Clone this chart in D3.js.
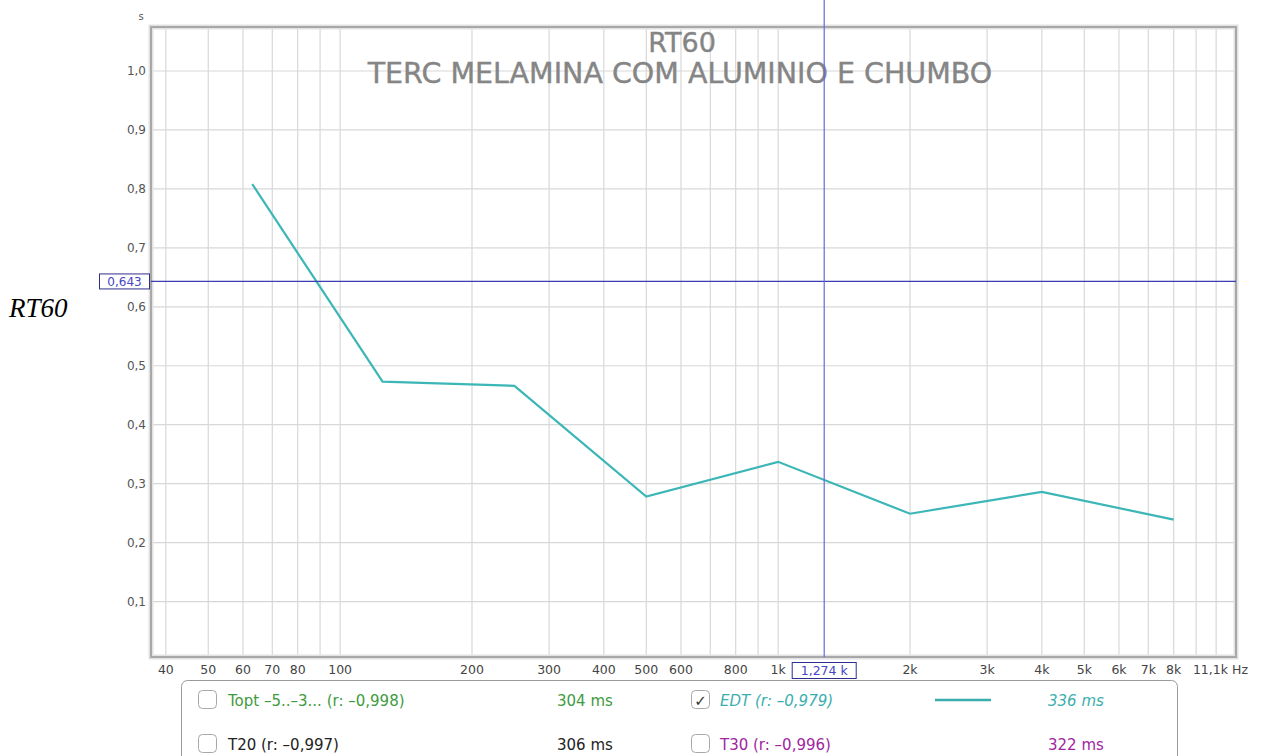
<!DOCTYPE html>
<html>
<head>
<meta charset="utf-8">
<script src="https://cdn.jsdelivr.net/npm/d3@7"></script>
<style>
  body { margin: 0; background: #fff; }
  svg { display: block; font-family: "DejaVu Sans", sans-serif; }
</style>
</head>
<body>
<div id="chart"></div>
<script>
const width = 1264;
const height = 756;
const margin = { top: 27, right: 28, bottom: 99, left: 151 };

// EDT values per octave band (seconds)
const bandFreqs = [63, 125, 250, 500, 1000, 2000, 4000, 8000];
const edtValues = [0.808, 0.473, 0.466, 0.278, 0.337, 0.249, 0.286, 0.239];

// axis ticks
const gridFreqs = [40, 50, 60, 70, 80, 90, 100, 200, 300, 400, 500, 600, 700, 800, 900,
    1000, 2000, 3000, 4000, 5000, 6000, 7000, 8000, 9000, 10000];
const labelFreqs = [40, 50, 60, 70, 80, 100, 200, 300, 400, 500, 600, 800,
    1000, 2000, 3000, 4000, 5000, 6000, 7000, 8000];
const yTicks = [0.1, 0.2, 0.3, 0.4, 0.5, 0.6, 0.7, 0.8, 0.9, 1.0];

// cursor position
const cursorFreq = 1274;
const cursorValue = 0.643;

// legend rows
const legendRows = [
    { name: "Topt \u20135..\u20133... (r: \u20130,998)", value: "304 ms", color: "#3e9b3e", checked: false, italic: false },
    { name: "EDT (r: \u20130,979)", value: "336 ms", color: "#3aaeae", checked: true, italic: true },
    { name: "T20 (r: \u20130,997)", value: "306 ms", color: "#222", checked: false, italic: false },
    { name: "T30 (r: \u20130,996)", value: "322 ms", color: "#a0259f", checked: false, italic: false }
];

const x = d3.scaleLog()
    .domain([37, 11100])
    .range([margin.left, width - margin.right]);

const y = d3.scaleLinear()
    .domain([0.0068, 1.0746])
    .range([height - margin.bottom - 0.5, margin.top]);

const fmtFreq = f => f >= 1000 ? (f / 1000) + "k" : String(f);
const fmtComma = v => d3.format(".1f")(v).replace(".", ",");

const svg = d3.select("#chart")
    .append("svg")
    .attr("width", width)
    .attr("height", height);

const plotW = width - margin.right - margin.left;
const plotH = height - margin.bottom - margin.top;

// grid
svg.append("g")
    .selectAll("line")
    .data(gridFreqs)
    .join("line")
    .attr("x1", d => x(d)).attr("x2", d => x(d))
    .attr("y1", margin.top).attr("y2", margin.top + plotH)
    .attr("stroke", "#d8d8d8").attr("stroke-width", 1.2);

svg.append("g")
    .selectAll("line")
    .data(yTicks)
    .join("line")
    .attr("x1", margin.left).attr("x2", margin.left + plotW)
    .attr("y1", d => y(d)).attr("y2", d => y(d))
    .attr("stroke", "#d8d8d8").attr("stroke-width", 1.2);

// frame
svg.append("rect")
    .attr("x", margin.left).attr("y", margin.top)
    .attr("width", plotW).attr("height", plotH)
    .attr("fill", "none").attr("stroke", "#e2e2e2").attr("stroke-width", 5);
svg.append("rect")
    .attr("x", margin.left).attr("y", margin.top)
    .attr("width", plotW).attr("height", plotH)
    .attr("fill", "none").attr("stroke", "#a8a8a8").attr("stroke-width", 2);

// y tick labels
svg.append("g")
    .selectAll("text")
    .data(yTicks)
    .join("text")
    .attr("x", margin.left - 5)
    .attr("y", d => y(d) + 4.5)
    .attr("text-anchor", "end")
    .attr("font-size", 12)
    .attr("fill", "#555")
    .text(fmtComma);

svg.append("text")
    .attr("x", margin.left - 10).attr("y", 20)
    .attr("text-anchor", "middle").attr("font-size", 10).attr("fill", "#555")
    .text("s");

// x tick labels
svg.append("g")
    .selectAll("text")
    .data(labelFreqs)
    .join("text")
    .attr("x", d => x(d))
    .attr("y", height - margin.bottom + 17)
    .attr("text-anchor", "middle")
    .attr("font-size", 12.5)
    .attr("fill", "#444")
    .text(fmtFreq);

svg.append("text")
    .attr("x", 1228).attr("y", height - margin.bottom + 17)
    .attr("text-anchor", "end").attr("font-size", 12.5).attr("fill", "#444")
    .text("11,1k");
svg.append("text")
    .attr("x", 1232).attr("y", height - margin.bottom + 17)
    .attr("font-size", 12.5).attr("fill", "#444")
    .text("Hz");

// titles
svg.append("text")
    .attr("x", 682).attr("y", 52)
    .attr("text-anchor", "middle").attr("font-size", 27).attr("fill", "#858585")
    .attr("stroke", "#858585").attr("stroke-width", 0.4)
    .text("RT60");
svg.append("text")
    .attr("x", 680).attr("y", 83)
    .attr("text-anchor", "middle").attr("font-size", 28.5).attr("fill", "#858585")
    .attr("stroke", "#858585").attr("stroke-width", 0.4)
    .text("TERC MELAMINA COM ALUMINIO E CHUMBO");

// EDT curve
const line = d3.line()
    .x((d, i) => x(bandFreqs[i]))
    .y(d => y(d));

svg.append("path")
    .datum(edtValues)
    .attr("d", line)
    .attr("fill", "none")
    .attr("stroke", "#3cb6b6")
    .attr("stroke-width", 2.2);

// cursor lines
svg.append("line")
    .attr("x1", margin.left).attr("x2", margin.left + plotW)
    .attr("y1", y(cursorValue)).attr("y2", y(cursorValue))
    .attr("stroke", "#3b3bb2").attr("stroke-width", 1.2);
svg.append("line")
    .attr("x1", x(cursorFreq)).attr("x2", x(cursorFreq))
    .attr("y1", 0).attr("y2", margin.top + plotH)
    .attr("stroke", "#6767e0").attr("stroke-width", 1.2);

// cursor value boxes
const yBox = svg.append("g");
yBox.append("rect")
    .attr("x", 99.5).attr("y", y(cursorValue) - 7.5)
    .attr("width", 50).attr("height", 15)
    .attr("fill", "#fff").attr("stroke", "#2e2e8e").attr("stroke-width", 1);
yBox.append("text")
    .attr("x", 124.5).attr("y", y(cursorValue) + 4.5)
    .attr("text-anchor", "middle").attr("font-size", 12).attr("fill", "#4545c8")
    .text("0,643");

const xBox = svg.append("g");
xBox.append("rect")
    .attr("x", x(cursorFreq) - 32).attr("y", height - margin.bottom + 5.5)
    .attr("width", 64).attr("height", 16)
    .attr("fill", "#fff").attr("stroke", "#2e2e8e").attr("stroke-width", 1);
xBox.append("text")
    .attr("x", x(cursorFreq)).attr("y", height - margin.bottom + 18)
    .attr("text-anchor", "middle").attr("font-size", 12.5).attr("fill", "#4545c8")
    .text("1,274 k");

// left axis name
svg.append("text")
    .attr("x", 9).attr("y", 317)
    .attr("font-family", "Liberation Serif, serif")
    .attr("font-style", "italic").attr("font-size", 27).attr("fill", "#000")
    .text("RT60");

// legend panel
svg.append("rect")
    .attr("x", 181.5).attr("y", 680.5)
    .attr("width", 996).attr("height", 100)
    .attr("rx", 6)
    .attr("fill", "#fff").attr("stroke", "#9a9a9a").attr("stroke-width", 1);

const colX = [198, 691];
const rowY = [700, 744];

const items = svg.append("g")
    .selectAll("g")
    .data(legendRows)
    .join("g")
    .attr("transform", (d, i) => `translate(${colX[i % 2]},${rowY[Math.floor(i / 2)]})`);

items.append("rect")
    .attr("x", 0.5).attr("y", -9.5)
    .attr("width", 18).attr("height", 18)
    .attr("rx", 4)
    .attr("fill", "#fff").attr("stroke", "#a8a8a8").attr("stroke-width", 1);

items.filter(d => d.checked)
    .append("text")
    .attr("x", 9.5).attr("y", 5.5)
    .attr("text-anchor", "middle").attr("font-size", 15).attr("fill", "#333")
    .text("\u2713");

items.append("text")
    .attr("x", (d, i) => i % 2 === 0 ? 30 : 29)
    .attr("y", 5.5)
    .attr("font-size", 15)
    .attr("font-style", d => d.italic ? "italic" : "normal")
    .attr("fill", d => d.color)
    .text(d => d.name);

items.append("text")
    .attr("x", (d, i) => i % 2 === 0 ? 359 : 357)
    .attr("y", 5.5)
    .attr("font-size", 15)
    .attr("font-style", d => d.italic ? "italic" : "normal")
    .attr("fill", d => d.color)
    .text(d => d.value);

items.filter(d => d.checked)
    .append("line")
    .attr("x1", 244).attr("x2", 300)
    .attr("y1", 0).attr("y2", 0)
    .attr("stroke", d => d.color).attr("stroke-width", 2.5);
</script>
</body>
</html>
